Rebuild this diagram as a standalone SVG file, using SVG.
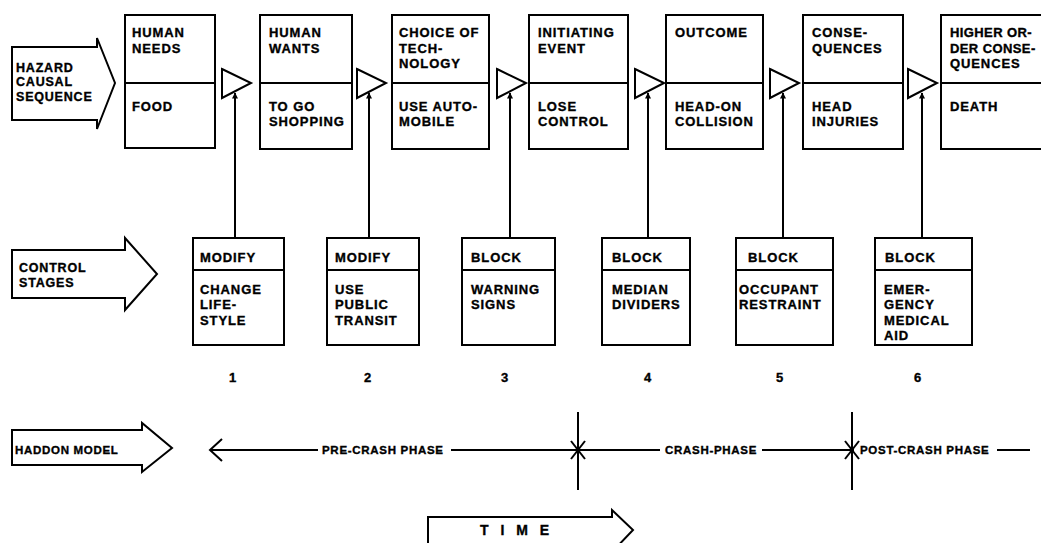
<svg xmlns="http://www.w3.org/2000/svg" width="1041" height="543" viewBox="0 0 1041 543">
<defs>
<style>
.t{font-family:"Liberation Sans",Arial,sans-serif;font-weight:bold;font-size:13px;letter-spacing:0.9px;fill:#000;stroke:#000;stroke-width:0.35px}
.s{font-size:12.5px;letter-spacing:0.8px}
.p{font-size:11.5px;letter-spacing:0.7px}
.box{fill:#fff;stroke:#000;stroke-width:2}
.ln{stroke:#000;stroke-width:2;fill:none}
.tri{fill:#fff;stroke:#000;stroke-width:2}
</style>
<marker id="ah" viewBox="0 0 10 10" refX="9" refY="5" markerWidth="9" markerHeight="6" orient="auto" markerUnits="userSpaceOnUse">
<path d="M0,0 L10,5 L0,10 z" fill="#000"/>
</marker>
</defs>
<rect width="1041" height="543" fill="#fff"/>

<g id="label-hazard">
<path class="box" d="M12,47 H97 V38 L115,83 L97,129 V120 H12 Z"/>
<text class="t s" x="16" y="72">HAZARD</text>
<text class="t s" x="16" y="86">CAUSAL</text>
<text class="t s" x="16" y="101">SEQUENCE</text>
</g>
<g id="label-control">
<path class="box" d="M12,250 H125 V238 L157,274 L125,310 V298 H12 Z"/>
<text class="t s" x="19" y="272">CONTROL</text>
<text class="t s" x="19" y="287">STAGES</text>
</g>
<g id="label-haddon">
<path class="box" d="M12,430 H142 V423 L172,448 L142,472 V465 H12 Z"/>
<text class="t p" x="15" y="454">HADDON MODEL</text>
</g>

<g id="seq1"><rect class="box" x="125" y="15" width="90" height="133"/><line class="ln" x1="125" y1="83" x2="215" y2="83"/>
<text class="t" x="132" y="37">HUMAN</text><text class="t" x="132" y="53">NEEDS</text><text class="t" x="132" y="111">FOOD</text></g>
<g id="seq2"><rect class="box" x="260" y="15" width="92" height="134"/><line class="ln" x1="260" y1="83" x2="352" y2="83"/>
<text class="t" x="269" y="37">HUMAN</text><text class="t" x="269" y="53">WANTS</text><text class="t" x="269" y="111">TO GO</text><text class="t" x="269" y="126">SHOPPING</text></g>
<g id="seq3"><rect class="box" x="392" y="15" width="97" height="134"/><line class="ln" x1="392" y1="83" x2="489" y2="83"/>
<text class="t" x="399" y="37">CHOICE OF</text><text class="t" x="399" y="53">TECH-</text><text class="t" x="399" y="68">NOLOGY</text><text class="t" x="399" y="111">USE AUTO-</text><text class="t" x="399" y="126">MOBILE</text></g>
<g id="seq4"><rect class="box" x="529" y="15" width="99" height="134"/><line class="ln" x1="529" y1="83" x2="628" y2="83"/>
<text class="t" x="538" y="37">INITIATING</text><text class="t" x="538" y="53">EVENT</text><text class="t" x="538" y="111">LOSE</text><text class="t" x="538" y="126">CONTROL</text></g>
<g id="seq5"><rect class="box" x="666" y="15" width="97" height="134"/><line class="ln" x1="666" y1="83" x2="763" y2="83"/>
<text class="t" x="675" y="37">OUTCOME</text><text class="t" x="675" y="111">HEAD-ON</text><text class="t" x="675" y="126">COLLISION</text></g>
<g id="seq6"><rect class="box" x="803" y="15" width="100" height="134"/><line class="ln" x1="803" y1="83" x2="903" y2="83"/>
<text class="t" x="812" y="37">CONSE-</text><text class="t" x="812" y="53">QUENCES</text><text class="t" x="812" y="111">HEAD</text><text class="t" x="812" y="126">INJURIES</text></g>
<g id="seq7"><rect class="box" x="941" y="15" width="110" height="134"/><line class="ln" x1="941" y1="83" x2="1041" y2="83"/>
<text class="t" x="950" y="37" style="letter-spacing:0.4px">HIGHER OR-</text><text class="t" x="950" y="53" style="letter-spacing:0.4px">DER CONSE-</text><text class="t" x="950" y="68">QUENCES</text><text class="t" x="950" y="111">DEATH</text></g>

<g id="ctl1"><rect class="box" x="193" y="238" width="91" height="107"/><line class="ln" x1="193" y1="270" x2="284" y2="270"/>
<text class="t" x="200" y="262">MODIFY</text><text class="t" x="200" y="294">CHANGE</text><text class="t" x="200" y="309">LIFE-</text><text class="t" x="200" y="325">STYLE</text></g>
<g id="ctl2"><rect class="box" x="327" y="238" width="92" height="107"/><line class="ln" x1="327" y1="270" x2="419" y2="270"/>
<text class="t" x="335" y="262">MODIFY</text><text class="t" x="335" y="294">USE</text><text class="t" x="335" y="309">PUBLIC</text><text class="t" x="335" y="325">TRANSIT</text></g>
<g id="ctl3"><rect class="box" x="462" y="238" width="93" height="107"/><line class="ln" x1="462" y1="270" x2="555" y2="270"/>
<text class="t" x="471" y="262">BLOCK</text><text class="t" x="471" y="294">WARNING</text><text class="t" x="471" y="309">SIGNS</text></g>
<g id="ctl4"><rect class="box" x="602" y="238" width="88" height="107"/><line class="ln" x1="602" y1="270" x2="690" y2="270"/>
<text class="t" x="612" y="262">BLOCK</text><text class="t" x="612" y="294">MEDIAN</text><text class="t" x="612" y="309">DIVIDERS</text></g>
<g id="ctl5"><rect class="box" x="736" y="238" width="97" height="107"/><line class="ln" x1="736" y1="270" x2="833" y2="270"/>
<text class="t" x="748" y="262">BLOCK</text><text class="t" x="739" y="294">OCCUPANT</text><text class="t" x="739" y="309">RESTRAINT</text></g>
<g id="ctl6"><rect class="box" x="875" y="238" width="97" height="107"/><line class="ln" x1="875" y1="270" x2="972" y2="270"/>
<text class="t" x="885" y="262">BLOCK</text><text class="t" x="884" y="294">EMER-</text><text class="t" x="884" y="309">GENCY</text><text class="t" x="884" y="325">MEDICAL</text><text class="t" x="884" y="340">AID</text></g>

<g id="numbers" text-anchor="middle">
<text class="t" x="233" y="382">1</text><text class="t" x="368" y="382">2</text><text class="t" x="505" y="382">3</text>
<text class="t" x="648" y="382">4</text><text class="t" x="780" y="382">5</text><text class="t" x="918" y="382">6</text>
</g>

<g id="connectors">
<polygon class="tri" points="222,69 251,83 222,98"/>
<polygon class="tri" points="357,69 386,83 357,98"/>
<polygon class="tri" points="497,69 526,83 497,98"/>
<polygon class="tri" points="635,69 664,83 635,98"/>
<polygon class="tri" points="770,69 799,83 770,98"/>
<polygon class="tri" points="908,69 937,83 908,98"/>
<line class="ln" x1="235" y1="238" x2="235" y2="93" marker-end="url(#ah)"/>
<line class="ln" x1="369" y1="238" x2="369" y2="93" marker-end="url(#ah)"/>
<line class="ln" x1="510" y1="238" x2="510" y2="93" marker-end="url(#ah)"/>
<line class="ln" x1="648" y1="238" x2="648" y2="93" marker-end="url(#ah)"/>
<line class="ln" x1="783" y1="238" x2="783" y2="93" marker-end="url(#ah)"/>
<line class="ln" x1="922" y1="238" x2="922" y2="93" marker-end="url(#ah)"/>
</g>

<g id="timeline">
<polyline class="ln" points="222,439 210,450 222,461" stroke-width="3"/>
<line class="ln" x1="211" y1="450" x2="318" y2="450"/>
<line class="ln" x1="451" y1="450" x2="660" y2="450"/>
<line class="ln" x1="762" y1="450" x2="854" y2="450"/>
<line class="ln" x1="997" y1="450" x2="1030" y2="450"/>
<line class="ln" x1="578" y1="412" x2="578" y2="490" stroke-width="2.5"/>
<line class="ln" x1="571" y1="441" x2="585" y2="459"/>
<line class="ln" x1="571" y1="459" x2="585" y2="441"/>
<line class="ln" x1="852" y1="412" x2="852" y2="490" stroke-width="2.5"/>
<line class="ln" x1="845" y1="441" x2="859" y2="459"/>
<line class="ln" x1="845" y1="459" x2="859" y2="441"/>
<text class="t p" x="322" y="454">PRE-CRASH PHASE</text>
<text class="t p" x="665" y="454">CRASH-PHASE</text>
<text class="t p" x="860" y="454">POST-CRASH PHASE</text>
</g>

<g id="time">
<path class="box" d="M428,546 V517 H612 V510 L633,530 L612,552"/>
<text class="t" x="480" y="535" style="font-size:14px;letter-spacing:4px">T I M E</text>
</g>
</svg>
